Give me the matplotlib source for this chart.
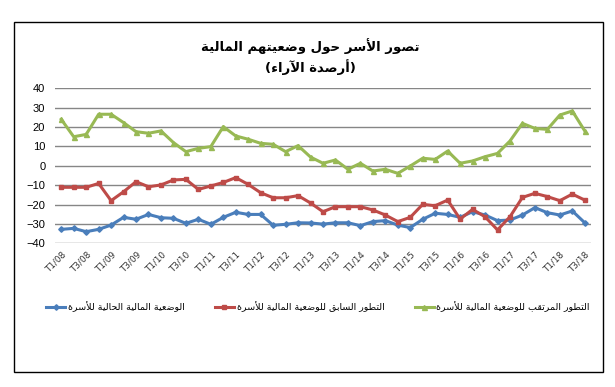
import matplotlib
matplotlib.use("Agg")
import matplotlib.pyplot as plt
from matplotlib.lines import Line2D
from matplotlib.patches import Rectangle

# ---------------- data ----------------
quarters = [f"T{q}/{y:02d}" for y in range(8, 19) for q in range(1, 5)][:43]
tick_labels = quarters[::2]

current_situation = [-32.8, -32.3, -34.0, -32.8, -30.6, -26.6, -27.6, -25.1, -26.8, -27.1,
                     -29.7, -27.6, -30.2, -26.6, -24.0, -25.1, -25.1, -30.7, -30.2, -29.4,
                     -29.5, -30.1, -29.4, -29.4, -30.9, -28.8, -28.3, -30.6, -31.9, -27.6,
                     -24.5, -25.1, -26.6, -23.7, -25.4, -28.3, -28.0, -25.4, -21.6, -24.2,
                     -25.4, -23.3, -29.4]
past_evolution = [-11.1, -11.1, -11.1, -9.1, -18.0, -13.4, -8.2, -10.8, -9.9, -7.3,
                  -7.0, -12.2, -10.4, -8.6, -6.1, -9.6, -13.9, -16.5, -16.5, -15.4,
                  -19.2, -23.7, -21.1, -21.1, -21.1, -22.8, -25.4, -28.8, -26.6, -19.9,
                  -20.6, -17.7, -27.5, -22.5, -26.3, -33.1, -26.3, -16.3, -14.2, -15.9,
                  -18.0, -14.6, -17.7]
expected_evolution = [24.0, 15.0, 16.2, 26.6, 26.6, 22.3, 17.6, 16.8, 18.0, 12.0,
                      7.3, 9.0, 9.9, 20.2, 15.4, 13.7, 11.6, 11.1, 7.3, 10.4,
                      4.5, 1.3, 3.0, -1.8, 1.3, -2.7, -1.8, -3.9, -0.1, 3.9,
                      3.3, 7.6, 1.3, 2.5, 4.7, 6.4, 12.8, 21.9, 19.3, 18.8,
                      26.2, 28.3, 18.0]

title_l1 = "تصور الأسر حول وضعيتهم المالية"
title_l2 = "(أرصدة الآراء)"
series_names = ["الوضعية المالية الحالية للأسرة",
                "التطور السابق للوضعية المالية للأسرة",
                "التطور المرتقب للوضعية المالية للأسرة"]

# ---------------- minimal Arabic shaping ----------------
FORMS = {
    '\u0621': ('\uFE80',),
    '\u0622': ('\uFE81', '\uFE82'), '\u0623': ('\uFE83', '\uFE84'),
    '\u0625': ('\uFE87', '\uFE88'), '\u0627': ('\uFE8D', '\uFE8E'),
    '\u0628': ('\uFE8F', '\uFE90', '\uFE91', '\uFE92'),
    '\u0629': ('\uFE93', '\uFE94'),
    '\u062A': ('\uFE95', '\uFE96', '\uFE97', '\uFE98'),
    '\u062B': ('\uFE99', '\uFE9A', '\uFE9B', '\uFE9C'),
    '\u062C': ('\uFE9D', '\uFE9E', '\uFE9F', '\uFEA0'),
    '\u062D': ('\uFEA1', '\uFEA2', '\uFEA3', '\uFEA4'),
    '\u062E': ('\uFEA5', '\uFEA6', '\uFEA7', '\uFEA8'),
    '\u062F': ('\uFEA9', '\uFEAA'), '\u0630': ('\uFEAB', '\uFEAC'),
    '\u0631': ('\uFEAD', '\uFEAE'), '\u0632': ('\uFEAF', '\uFEB0'),
    '\u0633': ('\uFEB1', '\uFEB2', '\uFEB3', '\uFEB4'),
    '\u0634': ('\uFEB5', '\uFEB6', '\uFEB7', '\uFEB8'),
    '\u0635': ('\uFEB9', '\uFEBA', '\uFEBB', '\uFEBC'),
    '\u0636': ('\uFEBD', '\uFEBE', '\uFEBF', '\uFEC0'),
    '\u0637': ('\uFEC1', '\uFEC2', '\uFEC3', '\uFEC4'),
    '\u0638': ('\uFEC5', '\uFEC6', '\uFEC7', '\uFEC8'),
    '\u0639': ('\uFEC9', '\uFECA', '\uFECB', '\uFECC'),
    '\u063A': ('\uFECD', '\uFECE', '\uFECF', '\uFED0'),
    '\u0641': ('\uFED1', '\uFED2', '\uFED3', '\uFED4'),
    '\u0642': ('\uFED5', '\uFED6', '\uFED7', '\uFED8'),
    '\u0643': ('\uFED9', '\uFEDA', '\uFEDB', '\uFEDC'),
    '\u0644': ('\uFEDD', '\uFEDE', '\uFEDF', '\uFEE0'),
    '\u0645': ('\uFEE1', '\uFEE2', '\uFEE3', '\uFEE4'),
    '\u0646': ('\uFEE5', '\uFEE6', '\uFEE7', '\uFEE8'),
    '\u0647': ('\uFEE9', '\uFEEA', '\uFEEB', '\uFEEC'),
    '\u0648': ('\uFEED', '\uFEEE'), '\u0649': ('\uFEEF', '\uFEF0'),
    '\u064A': ('\uFEF1', '\uFEF2', '\uFEF3', '\uFEF4'),
}
LAMALEF = {'\u0622': ('\uFEF5', '\uFEF6'), '\u0623': ('\uFEF7', '\uFEF8'),
           '\u0625': ('\uFEF9', '\uFEFA'), '\u0627': ('\uFEFB', '\uFEFC')}
MIRROR = {'(': ')', ')': '('}


def shape(text):
    units = []
    i = 0
    while i < len(text):
        c = text[i]
        if c == '\u0644' and i + 1 < len(text) and text[i + 1] in LAMALEF:
            units.append(LAMALEF[text[i + 1]])
            i += 2
            continue
        units.append(FORMS.get(c, c))
        i += 1
    out = []
    for k, u in enumerate(units):
        if isinstance(u, str):
            out.append(u)
            continue
        prev = units[k - 1] if k > 0 else None
        nxt = units[k + 1] if k + 1 < len(units) else None
        pc = isinstance(prev, tuple) and len(prev) == 4 and len(u) >= 2
        nc = len(u) == 4 and isinstance(nxt, tuple) and len(nxt) >= 2
        if pc and nc:
            out.append(u[3])
        elif pc:
            out.append(u[1])
        elif nc:
            out.append(u[2])
        else:
            out.append(u[0])
    return ''.join(MIRROR.get(ch, ch) for ch in reversed(out))

# ---------------- plotting ----------------
W, H = 615, 387
fig = plt.figure(figsize=(W / 100, H / 100), dpi=100)
fig.patch.set_facecolor('white')

ax = fig.add_axes([55 / W, 1 - 243.3 / H, (591 - 55) / W, (243.3 - 88.3) / H])
x = list(range(len(quarters)))

colors = ['#4A7EBB', '#BE4B48', '#98B954']
markers = ['D', 's', '^']
msizes = [2.8, 3.2, 3.6]
series = [current_situation, past_evolution, expected_evolution]
for s, c, m, ms in zip(series, colors, markers, msizes):
    ax.plot(x, s, color=c, lw=2.2, marker=m, markersize=ms, markeredgecolor=c,
            solid_joinstyle='round', zorder=3)

ax.set_xlim(-0.5, len(quarters) - 0.5)
ax.set_ylim(-40, 40)
ax.set_yticks(range(-40, 41, 10))
ax.grid(axis='y', color='#868686', lw=1)
ax.set_axisbelow(True)
for sp in ax.spines.values():
    sp.set_visible(False)
ax.tick_params(length=0)
ax.tick_params(axis='y', labelsize=8, pad=7)
ax.set_xticks(x[::2])
ax.set_xticklabels(tick_labels, rotation=45, ha='right', rotation_mode='anchor',
                   fontsize=6.3, color='#333333')
ax.tick_params(axis='x', pad=5)
for lbl in ax.get_yticklabels():
    lbl.set_fontfamily('Liberation Sans')

# title
fig.text(310 / W, 1 - 46 / H, shape(title_l1), ha='center', va='center',
         fontsize=9.5, fontweight='bold', family=['DejaVu Sans'])
fig.text(310 / W, 1 - 67 / H, shape(title_l2), ha='center', va='center',
         fontsize=9.5, fontweight='bold', family=['DejaVu Sans'])

# legend
handles = [Line2D([0], [0], color=c, lw=2.2, marker=m, markersize=ms, markeredgecolor=c)
           for c, m, ms in zip(colors, markers, msizes)]
leg = fig.legend(handles, [shape(n) for n in series_names], loc='center',
                 bbox_to_anchor=(318 / W, 1 - 307 / H), ncol=3, frameon=False,
                 handlelength=2.0, handletextpad=0.3,
                 columnspacing=3.2, prop={'family': 'DejaVu Sans', 'size': 6.8})

# outer border
fig.patches.append(Rectangle((14 / W, 1 - 372 / H), (603 - 14) / W, (372 - 22) / H,
                             transform=fig.transFigure, fill=False,
                             edgecolor='black', lw=1))

fig.savefig('out.png', dpi=100)
